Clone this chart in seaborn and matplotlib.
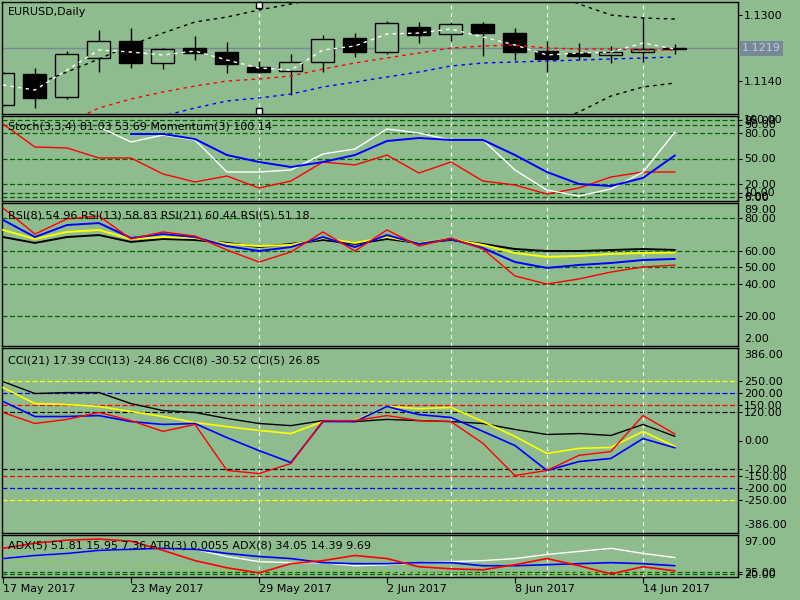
import matplotlib

matplotlib.use("Agg")
import matplotlib.pyplot as plt
import matplotlib.transforms as mtransforms
import numpy as np
import seaborn as sns


BAKGRUNN = "#8FBC8F"
NIVÅ_FARGE = "#006400"
PRIS_FARGE = "#778899"

# Dagsstearinlys EURUSD, 17 May - 15 Jun 2017
OPEN = [1.10819, 1.11570, 1.11012, 1.11958, 1.12370, 1.11837, 1.12200, 1.12103, 1.11740, 1.11643, 1.11861,
        1.12443, 1.12103, 1.12709, 1.12540, 1.12782, 1.12564, 1.12128, 1.12079, 1.12031, 1.12103, 1.12185]
HIGH = [1.11619, 1.11716, 1.12128, 1.12637, 1.12685, 1.12200, 1.12491, 1.12346, 1.11885, 1.12055, 1.12516,
        1.12564, 1.12855, 1.12831, 1.12831, 1.12831, 1.12685, 1.12370, 1.12322, 1.12249, 1.12952, 1.12297]
LOW = [1.10794, 1.10746, 1.10964, 1.11619, 1.11716, 1.11691, 1.11909, 1.11594, 1.11594, 1.11061, 1.11619,
       1.11982, 1.12055, 1.12322, 1.12370, 1.12006, 1.11909, 1.11619, 1.11909, 1.11837, 1.11861, 1.12055]
CLOSE = [1.11594, 1.10988, 1.12055, 1.12370, 1.11837, 1.12176, 1.12079, 1.11813, 1.11619, 1.11861, 1.12419,
         1.12103, 1.12806, 1.12516, 1.12782, 1.12564, 1.12103, 1.11934, 1.12006, 1.12103, 1.12176, 1.12190]
SISTE_PRIS = 1.1219

# glidende snitt og bånd (startindeks, verdier)
MA_HVIT = (0, [1.11303, 1.11182, 1.11667, 1.12152, 1.12103, 1.12031, 1.12128, 1.11909, 1.11716, 1.11667, 1.12152,
               1.12249, 1.12540, 1.12564, 1.12661, 1.12467, 1.12273, 1.12031, 1.12079, 1.12103, 1.12322, 1.12176])
MA_ROD = (2, [1.10382, 1.10746, 1.10964, 1.11134, 1.11279, 1.11400, 1.11449, 1.11522, 1.11691, 1.11837,
              1.11958, 1.12079, 1.12200, 1.12249, 1.12273, 1.12200, 1.12176, 1.12176, 1.12152, 1.12152])
MA_BLA = (4, [1.10358, 1.10552, 1.10746, 1.10916, 1.10988, 1.11085, 1.11255, 1.11376, 1.11497,
              1.11619, 1.11764, 1.11837, 1.11861, 1.11885, 1.11909, 1.11934, 1.11958, 1.11982])
BAND_OVRE = (1, [1.11303, 1.11619, 1.11934, 1.12273, 1.12564, 1.12831, 1.12952, 1.13122, 1.13267, 1.13437, 1.13558,
                 1.13703, 1.13800, 1.13849, 1.13849, 1.13800, 1.13606, 1.13267, 1.13000, 1.12928, 1.12903])
BAND_NEDRE = (12, [1.09849, 1.09970, 1.10091, 1.10164, 1.10213, 1.10358, 1.10649, 1.11037, 1.11255, 1.11352])

STOCH_HOVED = (3, [87.1, 69.4, 77.6, 71.8, 34.1, 34.1, 36.5, 55.3, 61.2, 84.7, 80.0, 71.8, 71.8, 36.5,
                   12.9, 5.9, 14.1, 34.1, 81.03])
STOCH_SIGNAL = (4, [78.8, 78.8, 72.9, 54.1, 45.9, 40.0, 45.9, 54.1, 70.6, 74.1, 71.8, 71.8, 54.1, 34.1,
                    20.0, 17.6, 27.1, 53.69])
MOMENTUM = (0, [90.6, 63.5, 62.4, 50.6, 50.6, 31.8, 22.4, 29.4, 15.3, 23.5, 45.9, 42.4, 54.1, 32.9, 45.9,
                23.5, 18.8, 8.2, 15.3, 28.2, 34.1, 34.1])

RSI5 = [86.0, 70.1, 79.3, 81.1, 67.1, 71.4, 68.9, 60.4, 53.1, 59.2, 71.4, 59.8, 72.6, 62.8, 67.7, 61.0,
        44.6, 39.7, 42.8, 47.0, 50.1, 51.18]
RSI8 = [78.7, 68.3, 75.6, 76.8, 67.7, 70.1, 68.3, 62.8, 59.8, 62.2, 68.3, 62.2, 69.5, 64.1, 67.1, 61.6,
        53.1, 49.5, 51.3, 52.5, 54.3, 54.96]
RSI13 = [72.6, 67.1, 71.4, 72.6, 67.1, 68.3, 67.7, 64.1, 62.8, 63.5, 67.7, 64.7, 68.3, 64.7, 67.1, 63.5,
         58.6, 56.2, 56.8, 58.0, 58.6, 58.83]
RSI21 = [68.3, 64.7, 68.3, 69.5, 65.3, 67.1, 66.5, 64.7, 62.2, 64.1, 66.5, 64.1, 67.1, 64.7, 66.5, 64.1,
         61.0, 59.8, 59.8, 60.4, 61.0, 60.44]

CCI21 = [246, 196, 200, 200, 154, 125, 117, 92, 71, 62, 83, 79, 88, 83, 79, 71, 46, 25, 29, 21, 67, 17.39]
CCI13 = [221, 154, 150, 142, 121, 100, 75, 58, 42, 29, 79, 83, 142, 133, 138, 79, 17, -54, -33, -29, 38, -24.86]
CCI8 = [163, 100, 100, 104, 79, 67, 71, 12, -42, -92, 79, 79, 142, 108, 96, 38, -21, -125, -88, -75, 8, -30.52]
CCI5 = [117, 71, 88, 117, 83, 38, 67, -125, -138, -96, 83, 83, 104, 83, 79, -12, -146, -125, -62, -46, 104, 26.85]

ADX_ROD = [71, 81, 87, 89, 85, 67, 47, 33, 23, 41, 47, 57, 51, 35, 31, 29, 39, 51, 37, 21, 35, 27]
ADX_BLA = [51, 57, 61, 67, 69, 71, 69, 61, 55, 51, 43, 41, 41, 43, 43, 37, 37, 39, 41, 43, 41, 37]
ADX_HVIT = [51, 57, 61, 67, 69, 71, 69, 55, 45, 43, 43, 37, 39, 43, 45, 47, 51, 59, 65, 71, 61, 53]
ATR_LINJE = [51, 45, 45, 43, 39, 35, 31, 29, 23, 25, 29, 27, 25, 23, 23, 21, 21, 21, 23, 23, 23, 23]

DATO_TICKS = [0, 4, 8, 12, 16, 20]
DATO_LABELS = ["17 May 2017", "23 May 2017", "29 May 2017", "2 Jun 2017", "8 Jun 2017", "14 Jun 2017"]
SKILLELINJER = [8, 14, 17, 20]

STIPLET = (0, (4, 2))
PRIKKET = (0, (2.5, 3))


def akse(fig, topp, bunn):
    ax = fig.add_axes([2 / 800, 1 - bunn / 600, 736 / 800, (bunn - topp) / 600])
    ax.set_facecolor(BAKGRUNN)
    ax.set_xlim(-0.03, 22.97)
    for spine in ax.spines.values():
        spine.set_color("black")
        spine.set_linewidth(1.0)
    ax.yaxis.tick_right()
    ax.tick_params(axis="y", direction="out", length=3, width=0.8, pad=1.5, labelsize=8, colors="black")
    ax.tick_params(axis="x", bottom=False, labelbottom=False)
    for i in SKILLELINJER:
        ax.axvline(i, color="white", linewidth=0.9, linestyle=(0, (3, 3)), zorder=1.5)
    return ax


def tegn_linje(ax, start, verdier, farge, bredde=1.0, stil="-", zorder=3):
    x = np.arange(start, start + len(verdier))
    sns.lineplot(x=x, y=verdier, ax=ax, color=farge, linewidth=bredde, linestyle=stil,
                 estimator=None, sort=False, legend=False, zorder=zorder)
    ax.set_xlabel("")
    ax.set_ylabel("")


def nivåer(ax, verdier, farger=None):
    for i, v in enumerate(verdier):
        farge = NIVÅ_FARGE if farger is None else farger[i]
        ax.axhline(v, color=farge, linewidth=0.9, linestyle=STIPLET, zorder=1.2)


def høyre_tekst(ax, verdi, tekst):
    trans = mtransforms.blended_transform_factory(ax.transAxes, ax.transData)
    ax.text(1.0 + 6 / 736, verdi, tekst, transform=trans, ha="left", va="center", fontsize=8,
            color="black", clip_on=False)


def overskrift(ax, y, tekst):
    ax.text(6 / 736, y, tekst, transform=ax.transAxes, fontsize=8, va="center", color="black", zorder=6)


def main() -> None:
    sns.set_theme(style="white", rc={"axes.facecolor": BAKGRUNN, "figure.facecolor": BAKGRUNN,
                                     "text.color": "black"})
    plt.rcParams["font.family"] = ["DejaVu Sans"]

    fig = plt.figure(figsize=(8, 6), dpi=100)
    fig.patch.set_facecolor(BAKGRUNN)

    # hovedpanel med stearinlys
    ax = akse(fig, 2, 114)
    ax.set_ylim(1.10600, 1.13316)
    x = np.arange(len(OPEN))
    o = np.array(OPEN)
    c = np.array(CLOSE)
    ax.vlines(x, LOW, HIGH, colors="black", linewidth=1.0, zorder=2)
    høyde = np.where(np.abs(c - o) < 0.00004, 0.00004, c - o)
    farger = [BAKGRUNN if cc >= oo else "black" for oo, cc in zip(o, c)]
    ax.bar(x, høyde, bottom=o, width=0.72, color=farger, edgecolor="black", linewidth=1.0, zorder=2.5)
    ax.axhline(SISTE_PRIS, color=PRIS_FARGE, linewidth=1.0, zorder=1.8)
    for (start, verdier), farge in [(BAND_OVRE, "black"), (BAND_NEDRE, "black"), (MA_BLA, "blue"),
                                    (MA_ROD, "red"), (MA_HVIT, "white")]:
        tegn_linje(ax, start, verdier, farge, bredde=1.0, stil=PRIKKET)
    ax.set_yticks([1.1300, 1.1140])
    ax.set_yticklabels(["1.1300", "1.1140"])
    trans = mtransforms.blended_transform_factory(ax.transAxes, ax.transData)
    ax.text(1.0 + 4 / 736, SISTE_PRIS, "1.1219", transform=trans, ha="left", va="center", fontsize=8,
            color="#C4CCD4", clip_on=False,
            bbox=dict(boxstyle="square,pad=0.2", facecolor=PRIS_FARGE, edgecolor="none"))
    mtrans = mtransforms.blended_transform_factory(ax.transData, ax.transAxes)
    ax.plot([8, 8], [0.973, 0.027], linestyle="none", marker="s", markersize=4.5, markerfacecolor="white",
            markeredgecolor="black", markeredgewidth=1.0, transform=mtrans, zorder=5, clip_on=False)
    overskrift(ax, 0.91, "EURUSD,Daily")

    # stokastisk + momentum
    ax = akse(fig, 116, 201)
    ax.set_ylim(0, 100)
    nivåer(ax, [95, 90, 80, 50, 20, 10, 5])
    tegn_linje(ax, *MOMENTUM, "red", bredde=1.0)
    tegn_linje(ax, *STOCH_HOVED, "white", bredde=1.0)
    tegn_linje(ax, *STOCH_SIGNAL, "blue", bredde=1.4)
    ax.set_yticks([95, 90, 80, 50, 20, 10, 5])
    ax.set_yticklabels(["95.00", "90.00", "80.00", "50.00", "20.00", "10.00", "5.00"])
    høyre_tekst(ax, 95, "100.00")
    høyre_tekst(ax, 5, "0.00")
    overskrift(ax, 0.88, "Stoch(3,3,4) 81.03 53.69 Momentum(3) 100.14")

    # RSI
    ax = akse(fig, 203, 346)
    ax.set_ylim(2, 89)
    nivåer(ax, [80, 60, 50, 40, 20])
    tegn_linje(ax, 0, RSI21, "black", bredde=1.4)
    tegn_linje(ax, 0, RSI13, "yellow", bredde=1.4)
    tegn_linje(ax, 0, RSI8, "blue", bredde=1.4)
    tegn_linje(ax, 0, RSI5, "red", bredde=1.0)
    ax.set_yticks([80, 60, 50, 40, 20])
    ax.set_yticklabels(["80.00", "60.00", "50.00", "40.00", "20.00"])
    høyre_tekst(ax, 84.7, "89.00")
    høyre_tekst(ax, 6.3, "2.00")
    overskrift(ax, 0.915, "RSI(8) 54.96 RSI(13) 58.83 RSI(21) 60.44 RSI(5) 51.18")

    # CCI
    ax = akse(fig, 348, 533)
    ax.set_ylim(-386, 386)
    cci_nivå = [250, 200, 150, 120, -120, -150, -200, -250]
    cci_farge = ["yellow", "blue", "red", "black", "black", "red", "blue", "yellow"]
    nivåer(ax, cci_nivå, cci_farge)
    tegn_linje(ax, 0, CCI21, "black", bredde=1.0)
    tegn_linje(ax, 0, CCI13, "yellow", bredde=1.2)
    tegn_linje(ax, 0, CCI8, "blue", bredde=1.2)
    tegn_linje(ax, 0, CCI5, "red", bredde=1.0)
    ax.set_yticks([250, 200, 150, 120, 0, -120, -150, -200, -250])
    ax.set_yticklabels(["250.00", "200.00", "150.00", "120.00", "0.00", "-120.00", "-150.00", "-200.00", "-250.00"])
    høyre_tekst(ax, 358, "386.00")
    høyre_tekst(ax, -354, "-386.00")
    overskrift(ax, 0.935, "CCI(21) 17.39 CCI(13) -24.86 CCI(8) -30.52 CCI(5) 26.85")

    # ADX + ATR
    ax = akse(fig, 535, 577)
    ax.set_ylim(15, 97)
    nivåer(ax, [25, 20])
    tegn_linje(ax, 0, ATR_LINJE, "#9ACD32", bredde=1.0, stil=PRIKKET)
    tegn_linje(ax, 0, ADX_HVIT, "white", bredde=1.0)
    tegn_linje(ax, 0, ADX_BLA, "blue", bredde=1.2)
    tegn_linje(ax, 0, ADX_ROD, "red", bredde=1.2)
    ax.set_yticks([25, 20])
    ax.set_yticklabels(["25.00", "20.00"])
    høyre_tekst(ax, 83, "97.00")
    overskrift(ax, 0.75, "ADX(5) 51.81 15.95 7.36 ATR(3) 0.0055 ADX(8) 34.05 14.39 9.69")
    ax.tick_params(axis="x", bottom=True, labelbottom=True, direction="out", length=4, width=0.8,
                   pad=1, labelsize=8, colors="black")
    ax.set_xticks(DATO_TICKS)
    ax.set_xticklabels(DATO_LABELS, ha="left")

    fig.savefig("out.png", dpi=100, facecolor=BAKGRUNN)
    plt.close(fig)


if __name__ == "__main__":
    main()
